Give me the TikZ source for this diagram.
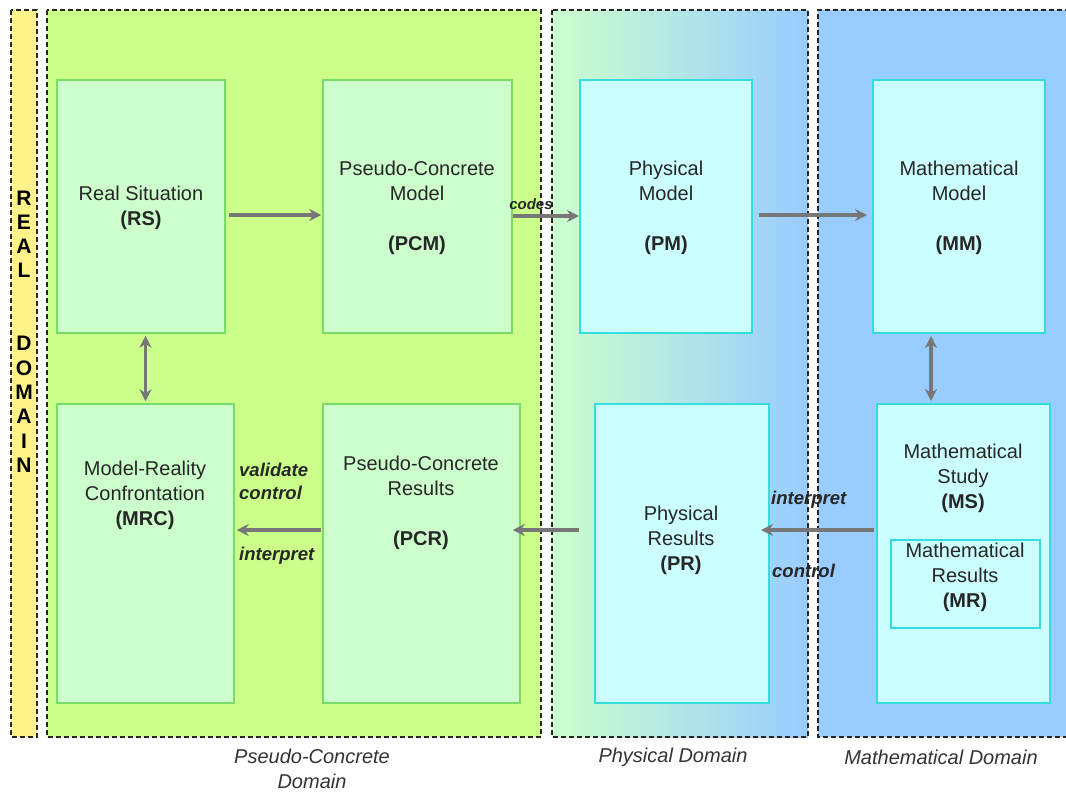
\documentclass[tikz,border=0pt]{standalone}
\usepackage{fontspec}
\setmainfont{Liberation Sans}
\usetikzlibrary{positioning,arrows.meta}

\definecolor{realyellow}{HTML}{FFF38A}
\definecolor{pcgreen}{HTML}{CCFF8A}
\definecolor{boxgreen}{HTML}{CCFFCC}
\definecolor{linegreen}{HTML}{77DD66}
\definecolor{mathblue}{HTML}{99CCFF}
\definecolor{boxcyan}{HTML}{CCFFFF}
\definecolor{linecyan}{HTML}{33DDDD}
\definecolor{flowgray}{HTML}{777777}

\begin{document}
\begin{tikzpicture}
            [x=1pt, y=-1pt, font=\fontsize{20}{25}\selectfont, text=black!85,
            domainframe/.style={draw=black!85, line width=1.3pt, dash pattern=on 5pt off 3pt},
            pcbox/.style={draw=linegreen, fill=boxgreen, line width=1.5pt},
            physbox/.style={draw=linecyan, fill=boxcyan, line width=2pt},
            % every node/.style={draw=red},
            flow/.style={draw=flowgray, line width=3.2pt, -{Stealth[length=12pt,width=12pt]}},
            twoway/.style={flow, {Stealth[length=12pt,width=12pt]}-{Stealth[length=12pt,width=12pt]}},
            tag/.style={inner sep=1pt, font=\fontsize{18.5}{23}\selectfont\bfseries\itshape},
            caption/.style={text=black!80, align=center, font=\fontsize{20}{24.5}\selectfont\itshape}]
            \useasboundingbox (0,0) rectangle (1066,793);

            % the four domains
            \fill[realyellow] (11,10) rectangle (37,737);
            \draw[domainframe] (11,10) rectangle (37,737);
            \fill[pcgreen] (47,10) rectangle (541,737);
            \draw[domainframe] (47,10) rectangle (541,737);
            \shade[left color=boxgreen, right color=mathblue] (552,10) rectangle (808,737);
            \draw[domainframe] (552,10) rectangle (808,737);
            \fill[mathblue] (818,10) rectangle (1070,737);
            \draw[domainframe] (1070,10) -- (818,10) -- (818,737) -- (1070,737);

            \node [align=center, text=black, font=\fontsize{21}{24.3}\selectfont\bfseries] (real) at (24,331.5)
                {R\\E\\A\\L\\~\\~\\D\\O\\M\\A\\I\\N};

            % boxes
            \node [pcbox, minimum width=168pt, minimum height=253pt] (rs) at (141,206.5) {};
            \node [pcbox, minimum width=189pt, minimum height=253pt] (pcm) at (417.5,206.5) {};
            \node [physbox, minimum width=172pt, minimum height=253pt] (pm) at (666,206.5) {};
            \node [physbox, minimum width=172pt, minimum height=253pt] (mm) at (959,206.5) {};
            \node [pcbox, minimum width=177pt, minimum height=299pt] (mrc) at (145.5,553.5) {};
            \node [pcbox, minimum width=197pt, minimum height=299pt] (pcr) at (421.5,553.5) {};
            \node [physbox, minimum width=174pt, minimum height=299pt] (pr) at (682,553.5) {};
            \node [physbox, minimum width=173pt, minimum height=299pt] (ms) at (963.5,553.5) {};
            \node [physbox, line width=1.3pt, minimum width=149pt, minimum height=88pt] (mr) at (965.5,584) {};

            % box texts
            \node [align=center] (rs-t) at (141,207.5) {Real Situation\\\textbf{(RS)}};
            \node [align=center] (pcm-t) at (417,207.5) {Pseudo-Concrete\\Model\\~\\\textbf{(PCM)}};
            \node [align=center] (pm-t) at (666,207.5) {Physical\\Model\\~\\\textbf{(PM)}};
            \node [align=center] (mm-t) at (959,207.5) {Mathematical\\Model\\~\\\textbf{(MM)}};
            \node [align=center] (mrc-t) at (145,495) {Model-Reality\\Confrontation\\\textbf{(MRC)}};
            \node [align=center] (pcr-t) at (421,502.5) {Pseudo-Concrete\\Results\\~\\\textbf{(PCR)}};
            \node [align=center] (pr-t) at (681,540) {Physical\\Results\\\textbf{(PR)}};
            \node [align=center] (ms-t) at (963,478) {Mathematical\\Study\\\textbf{(MS)}};
            \node [align=center] (mr-t) at (965,577) {Mathematical\\Results\\\textbf{(MR)}};

            % arrows
            \draw [flow, shorten <=3pt, shorten >=1pt] ([yshift=-8.5pt]rs.east) -- ([yshift=-8.5pt]pcm.west);
            \draw [flow] ([yshift=-9.5pt]pcm.east) -- ([yshift=-9.5pt]pm.west);
            \draw [flow, shorten <=6pt, shorten >=5pt] ([yshift=-8.5pt]pm.east) -- ([yshift=-8.5pt]mm.west);
            \draw [twoway, shorten <=2pt, shorten >=2pt] (mrc.north |- rs.south) -- (mrc.north);
            \draw [twoway, shorten <=2pt, shorten >=2pt] ([xshift=-28pt]mm.south) -- ([xshift=-28pt]mm.south |- ms.north);
            \draw [flow, shorten <=2pt, shorten >=-9pt] ([yshift=23.5pt]ms.west) -- ([yshift=23.5pt]pr.east);
            \draw [flow, shorten <=15pt, shorten >=-8pt] ([yshift=23.5pt]pr.west) -- ([yshift=23.5pt]pcr.east);
            \draw [flow, shorten <=1pt, shorten >=2pt] ([yshift=23.5pt]pcr.west) -- ([yshift=23.5pt]mrc.east);

            % arrow labels
            \node [tag, font=\fontsize{15}{18}\selectfont\bfseries\itshape] (codes) at (531,204) {codes};
            \node [tag, align=left, anchor=west] (validate) at (238,481.5) {validate\\control};
            \node [tag, anchor=west] (interp1) at (238,556) {interpret};
            \node [tag, anchor=west] (interp2) at (770,500) {interpret};
            \node [tag, anchor=west] (control) at (771,571) {control};

            % domain names
            \node [caption] (pc-name) at (312,769) {Pseudo-Concrete\\Domain};
            \node [caption] (ph-name) at (673,757) {Physical Domain};
            \node [caption] (ma-name) at (941,757) {Mathematical Domain};
\end{tikzpicture}
\end{document}
